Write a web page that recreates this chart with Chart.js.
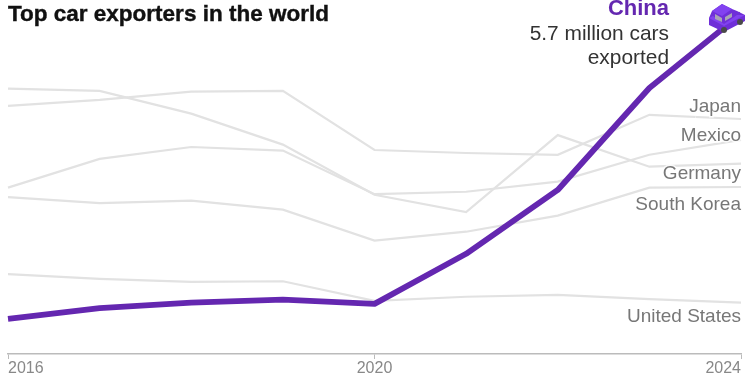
<!DOCTYPE html>
<html>
<head>
<meta charset="utf-8">
<style>
  html, body { margin: 0; padding: 0; background: #fff; }
  #wrap { position: relative; width: 750px; height: 375px; }
  canvas { display: block; }
</style>
<script src="https://cdn.jsdelivr.net/npm/chart.js@4"></script>
</head>
<body>
<div id="wrap"><canvas id="chart" width="750" height="375"></canvas></div>
<script>
const years = ['2016', '2017', '2018', '2019', '2020', '2021', '2022', '2023', '2024'];
const tickYears = ['2016', '2020', '2024'];

// million cars exported
const china = [0.59, 0.77, 0.86, 0.91, 0.84, 1.68, 2.75, 4.46, 5.70];
const japan = [4.16, 4.26, 4.40, 4.41, 3.42, 3.37, 3.34, 4.01, 3.94];
const germany = [4.45, 4.41, 4.03, 3.51, 2.67, 2.38, 3.67, 3.14, 3.19];
const mexico = [2.79, 3.27, 3.47, 3.41, 2.68, 2.72, 2.89, 3.34, 3.59];
const southKorea = [2.63, 2.53, 2.57, 2.42, 1.90, 2.05, 2.32, 2.79, 2.80];
const unitedStates = [1.34, 1.26, 1.21, 1.22, 0.89, 0.96, 0.99, 0.92, 0.86];

const PURPLE = '#6427b0';
const GREY_LINE = '#e2e2e2';
const FONT = '"Liberation Sans", sans-serif';

// car icon, drawn once and used as the point style of China's last point
// the point sits in the middle of this canvas, the icon hangs to its left and below
function makeCar() {
    const c = document.createElement('canvas');
    c.width = 70;
    c.height = 60;
    const g = c.getContext('2d');
    g.translate(3, 20);
    const poly = (color, pts) => {
        g.fillStyle = color;
        g.beginPath();
        pts.forEach((p, i) => i ? g.lineTo(p[0], p[1]) : g.moveTo(p[0], p[1]));
        g.closePath();
        g.fill();
    };
    const wheel = (x, y) => {
        g.fillStyle = '#4a4a4a';
        g.beginPath();
        g.arc(x, y, 3, 0, Math.PI * 2);
        g.fill();
    };
    // whole body, then lighter top faces, then windows and wheels
    poly('#6f2fd8', [[0, 14], [0, 21], [15, 28], [36, 17], [36, 11], [28, 7], [23, 5], [13, 0], [3, 7]]);
    poly('#8242f0', [[3, 7], [13, 0], [23, 5], [13, 12]]);
    poly('#8242f0', [[0, 14], [4, 12], [15, 20], [28, 11], [36, 11], [15, 22]]);
    poly('#a9a4b5', [[6, 10], [13, 14], [13, 18], [6, 15]]);
    poly('#a9a4b5', [[16, 13], [23, 9], [23, 13], [16, 17]]);
    wheel(15, 26);
    wheel(31, 18);
    return c;
}
const carIcon = makeCar();

const greyLine = (label, data) => ({
    label: label,
    data: data,
    borderColor: GREY_LINE,
    borderWidth: 2.2,
    pointRadius: 0,
    tension: 0,
    clip: false
});

const datasets = [
    {
        label: 'China',
        data: china,
        borderColor: PURPLE,
        borderWidth: 5.8,
        borderJoinStyle: 'round',
        tension: 0,
        clip: false,
        pointRadius: ctx => ctx.dataIndex === china.length - 1 ? 1 : 0,
        pointStyle: ctx => ctx.dataIndex === china.length - 1 ? carIcon : false
    },
    greyLine('Japan', japan),
    greyLine('Germany', germany),
    greyLine('Mexico', mexico),
    greyLine('South Korea', southKorea),
    greyLine('United States', unitedStates)
];

// direct labels next to the line ends, y is taken from the scale
const directLabels = {
    id: 'directLabels',
    afterDatasetsDraw(chart) {
        const { ctx, scales } = chart;
        const right = scales.x.right;
        const grey = [
            ['Japan', japan, -12],
            ['Mexico', mexico, -4],
            ['Germany', germany, 10],
            ['South Korea', southKorea, 18],
            ['United States', unitedStates, 14]
        ];
        ctx.save();
        ctx.textAlign = 'right';
        ctx.textBaseline = 'middle';
        ctx.font = '19px ' + FONT;
        ctx.fillStyle = '#777';
        grey.forEach(l => {
            const y = scales.y.getPixelForValue(l[1][l[1].length - 1]) + l[2];
            ctx.lineWidth = 3;
            ctx.strokeStyle = 'rgba(255,255,255,0.8)';
            ctx.strokeText(l[0], right, y);
            ctx.fillText(l[0], right, y);
        });
        ctx.fillStyle = PURPLE;
        ctx.font = 'bold 22px ' + FONT;
        ctx.fillText('China', 669, 9);
        ctx.fillStyle = '#333';
        ctx.font = '20.9px ' + FONT;
        ctx.fillText('5.7 million cars', 669, 34);
        ctx.fillText('exported', 669, 58);
        ctx.restore();
    }
};

new Chart(document.getElementById('chart'), {
    type: 'line',
    data: { labels: years, datasets: datasets },
    plugins: [directLabels],
    options: {
        responsive: false,
        animation: false,
        layout: { autoPadding: false, padding: { left: 8, right: 9, top: 14, bottom: 0 } },
        plugins: {
            legend: { display: false },
            tooltip: { enabled: false },
            title: {
                display: false
            }
        },
        scales: {
            x: {
                offset: false,
                border: { color: '#bbb', width: 1.5 },
                grid: {
                    drawOnChartArea: false,
                    tickLength: 5,
                    tickColor: ctx => tickYears.includes(years[ctx.index]) ? '#bbb' : 'transparent'
                },
                afterFit(axis) { axis.height = 21; },
                ticks: {
                    autoSkip: false,
                    maxRotation: 0,
                    align: 'inner',
                    padding: 0,
                    color: '#888',
                    font: { family: FONT, size: 16 },
                    callback(value) {
                        const y = years[value];
                        return tickYears.includes(y) ? y : '';
                    }
                }
            },
            y: {
                display: false,
                min: 0,
                max: 5.7
            }
        }
    }
});

// headline
const title = document.createElement('div');
title.textContent = 'Top car exporters in the world';
title.style.cssText = 'position:absolute;left:8px;top:0;font:bold 22.5px "Liberation Sans",sans-serif;-webkit-text-stroke:0.4px #111;color:#111;line-height:28px;white-space:nowrap;';
document.getElementById('wrap').appendChild(title);
</script>
</body>
</html>
